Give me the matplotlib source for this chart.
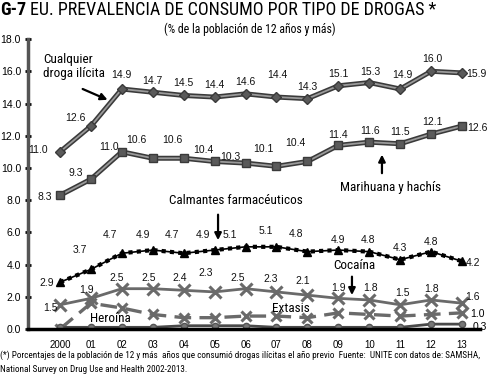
import matplotlib
matplotlib.use("Agg")
import matplotlib.pyplot as plt

plt.rcParams['font.family'] = ['Liberation Sans', 'DejaVu Sans']
NARROW = ['Roboto Condensed', 'Liberation Sans', 'DejaVu Sans']

# data (% of population 12+)
years = ['2000', '01', '02', '03', '04', '05', '06', '07', '08', '09', '10', '11', '12', '13']
cualquier = [11.0, 12.6, 14.9, 14.7, 14.5, 14.4, 14.6, 14.4, 14.3, 15.1, 15.3, 14.9, 16.0, 15.9]
marihuana = [8.3, 9.3, 11.0, 10.6, 10.6, 10.4, 10.3, 10.1, 10.4, 11.4, 11.6, 11.5, 12.1, 12.6]
calmantes = [2.9, 3.7, 4.7, 4.9, 4.7, 4.9, 5.1, 5.1, 4.8, 4.9, 4.8, 4.3, 4.8, 4.2]
cocaina = [1.5, 1.9, 2.5, 2.5, 2.4, 2.3, 2.5, 2.3, 2.1, 1.9, 1.8, 1.5, 1.8, 1.6]
extasis = [0.0, 1.6, 1.3, 0.9, 0.7, 0.7, 0.8, 0.8, 0.7, 1.0, 0.9, 0.8, 0.9, 1.0]
heroina = [0.1, 0.1, 0.1, 0.1, 0.2, 0.2, 0.2, 0.1, 0.1, 0.1, 0.1, 0.1, 0.3, 0.3]

x = list(range(len(years)))

# label offsets in pixels (dx, dy) for each point
off_cual = [(-22, 2), (-16, 8), (0, 14), (0, 11), (0, 12), (0, 12), (0, 12),
            (1, 22), (0, 12), (0, 12), (1, 11), (2, 14), (1, 12), (14, -1)]
off_mar = [(-15, -2), (-15, 6), (-13, 5), (-16, 18), (-11, 18), (-11, 11), (-15, 6),
           (-13, 17), (-12, 18), (0, 10), (1, 11), (0, 12), (1, 12), (15, -2)]
off_cal = [(-13, -1), (-11, 19), (-12, 18), (-10, 15), (-12, 18), (-12, 15), (-16, 12),
           (-11, 16), (-11, 18), (0, 10), (-1, 12), (0, 12), (0, 10), (11, -2)]
off_coc = [(-10, -3), (-4, 8), (-5, 11), (-4, 11), (-4, 12), (-9, 19), (-8, 11),
           (-6, 13), (-5, 14), (0, 10), (1, 12), (2, 12), (0, 11), (10, 6)]

fig = plt.figure(figsize=(5, 3.87), dpi=100)
ax = fig.add_axes([0.056, 0.150, 0.904, 0.749])


def double_line(vals, marker, ms):
    ax.plot(x, vals, color='#3a3a3a', lw=3.6, zorder=3)
    ax.plot(x, vals, color='#9a9a9a', lw=1.3, zorder=4)
    ax.plot(x, vals, ls='none', marker=marker, ms=ms, color='#5a5a5a',
            mec='#3a3a3a', zorder=5)


double_line(cualquier, 'D', 5)
double_line(marihuana, 's', 6)

# calmantes: black dotted heavy line with triangles
ax.plot(x, calmantes, color='black', lw=1.2, zorder=3)
ax.plot(x, calmantes, color='black', lw=3, ls=(0, (1, 1)), zorder=3)
ax.plot(x, calmantes, ls='none', marker='^', ms=6, color='black', zorder=5)

ax.plot(x, cocaina, color='#6a6a6a', lw=2, marker='x', ms=8, mew=2.2, zorder=3)
ax.plot(x, extasis, color='#6a6a6a', lw=2.4, ls=(0, (5, 2.5)), marker='x', ms=7,
        mew=2.2, zorder=3)
ax.plot(x, heroina, color='#4a4a4a', lw=2, marker='o', ms=4.5, mfc='#777777',
        mec='#555555', zorder=3)


def value_labels(vals, offs):
    for xi, v, (dx, dy) in zip(x, vals, offs):
        ax.annotate(f'{v:.1f}', (xi, v), xytext=(dx, dy), textcoords='offset pixels',
                    ha='center', va='center', fontsize=7.5, color='#111111')


value_labels(cualquier, off_cual)
value_labels(marihuana, off_mar)
value_labels(calmantes, off_cal)
value_labels(cocaina, off_coc)
ax.annotate(f'{extasis[-1]:.1f}', (x[-1], extasis[-1]), xytext=(15, -1),
            textcoords='offset pixels', ha='center', va='center', fontsize=7.5)
ax.annotate(f'{heroina[-1]:.1f}', (x[-1], heroina[-1]), xytext=(18, -3),
            textcoords='offset pixels', ha='center', va='center', fontsize=7.5)

# series names and arrows
arrow = dict(arrowstyle='-|>', color='black', lw=1.6, mutation_scale=10)
ax.text(-0.55, 16.3, 'Cualquier\ndroga ilícita', fontsize=9.5, family=NARROW,
        ha='left', va='center', linespacing=1.05)
ax.annotate('', xy=(1.62, 14.16), xytext=(0.65, 14.97), arrowprops=arrow)
ax.text(10.67, 8.76, 'Marihuana y hachís', fontsize=9.5, family=NARROW,
        ha='center', va='center')
ax.annotate('', xy=(10.41, 11.0), xytext=(10.41, 9.5), arrowprops=arrow)
ax.text(5.69, 7.95, 'Calmantes farmacéuticos', fontsize=9.5, family=NARROW,
        ha='center', va='center')
ax.annotate('', xy=(5.11, 5.34), xytext=(5.11, 7.27), arrowprops=arrow)
ax.text(9.51, 3.91, 'Cocaína', fontsize=9.5, family=NARROW, ha='center', va='center')
ax.annotate('', xy=(9.44, 1.93), xytext=(9.44, 3.42), arrowprops=arrow)
ax.text(7.47, 1.30, 'Extasis', fontsize=9.5, family=NARROW, ha='center', va='center')
ax.text(1.62, 0.62, 'Heroína', fontsize=9.5, family=NARROW, ha='center', va='center')

ax.set_xlim(-1.035, 13.58)
ax.set_ylim(0, 18)
ax.set_yticks([0, 2, 4, 6, 8, 10, 12, 14, 16, 18])
ax.set_yticklabels([f'{t:.1f}' for t in ax.get_yticks()], fontsize=7.5)
ax.set_xticks(x)
ax.set_xticklabels(years, fontsize=7)
ax.tick_params(axis='x', length=0, pad=8)
ax.tick_params(axis='y', direction='inout', length=4, width=2, pad=3)
for s in ['top', 'right']:
    ax.spines[s].set_visible(False)
ax.spines['left'].set_color('#555555')
ax.spines['left'].set_linewidth(2.5)
ax.spines['bottom'].set_color('black')
ax.spines['bottom'].set_linewidth(2.5)
ax.spines['bottom'].set_zorder(6)

# titles and footnote
fig.text(0.0, 1 - 10 / 387, 'G-7', fontsize=13, fontweight='bold', family=NARROW,
         ha='left', va='center')
fig.text(0.06, 1 - 10 / 387, 'EU. PREVALENCIA DE CONSUMO POR TIPO DE DROGAS *',
         fontsize=13, family=NARROW, ha='left', va='center')
fig.text(0.5, 1 - 29 / 387, '(% de la población de 12 años y más)', fontsize=8.5,
         family=NARROW, ha='center', va='center')
fig.text(0.0, 1 - 355 / 387,
         '(*) Porcentajes de la población de 12 y más  años que consumió drogas ilícitas '
         'el año previo  Fuente:  UNITE con datos de: SAMSHA,',
         fontsize=6.6, family=NARROW, ha='left', va='center')
fig.text(0.0, 1 - 370 / 387, 'National Survey on Drug Use and Health 2002-2013.',
         fontsize=6.6, family=NARROW, ha='left', va='center')

fig.savefig('out.png', dpi=100)
